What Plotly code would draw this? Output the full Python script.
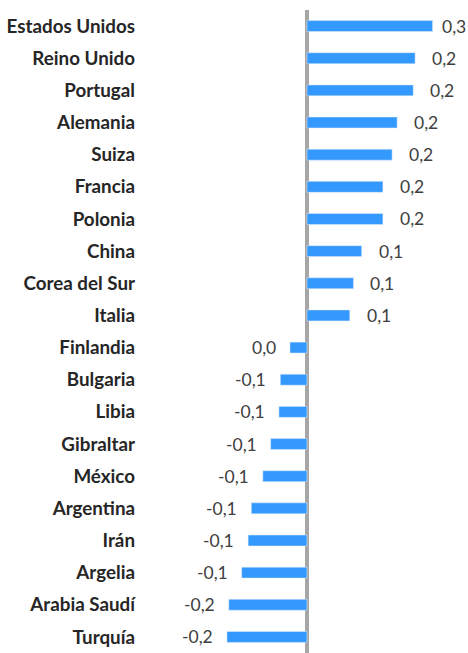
import plotly.graph_objects as go

countries = ["Estados Unidos", "Reino Unido", "Portugal", "Alemania", "Suiza", "Francia",
             "Polonia", "China", "Corea del Sur", "Italia", "Finlandia", "Bulgaria", "Libia",
             "Gibraltar", "México", "Argentina", "Irán", "Argelia", "Arabia Saudí", "Turquía"]
values = [0.273, 0.235, 0.231, 0.196, 0.185, 0.165, 0.165, 0.119, 0.101, 0.093,
          -0.037, -0.058, -0.061, -0.079, -0.096, -0.121, -0.128, -0.142, -0.170, -0.174]
labels = ["0,3", "0,2", "0,2", "0,2", "0,2", "0,2", "0,2", "0,1", "0,1", "0,1",
          "0,0", "-0,1", "-0,1", "-0,1", "-0,1", "-0,1", "-0,1", "-0,1", "-0,2", "-0,2"]

fig = go.Figure(go.Bar(
    x=values, y=countries, orientation="h",
    marker=dict(color="#3399FF"),
    hoverinfo="skip",
))

for i, (c, v, t) in enumerate(zip(countries, values, labels)):
    pos = v >= 0
    shift = 15 if pos else -12
    if i == 0:
        shift = 7
    fig.add_annotation(x=v, y=c, text=t, showarrow=False,
                       xanchor="left" if pos else "right", xshift=shift,
                       font=dict(family="Lato", size=17.5, color="#404040"))

fig.update_layout(
    width=468, height=653,
    margin=dict(l=136, r=0, t=10, b=0),
    paper_bgcolor="white", plot_bgcolor="white",
    bargap=0.66, showlegend=False,
    xaxis=dict(range=[-0.3717, 0.35], showgrid=False, showticklabels=False,
               zeroline=True, zerolinecolor="#A6A6A6", zerolinewidth=4, fixedrange=True),
    yaxis=dict(categoryorder="array", categoryarray=countries, autorange="reversed",
               showgrid=False, zeroline=False, ticks="", fixedrange=True,
               tickfont=dict(family="Lato", size=18.8, color="#262626", weight="bold")),
)

fig.write_html(
    "out.html",
    config={"displayModeBar": False},
    post_script="document.body.style.margin='0';document.body.style.overflow='hidden';",
)
